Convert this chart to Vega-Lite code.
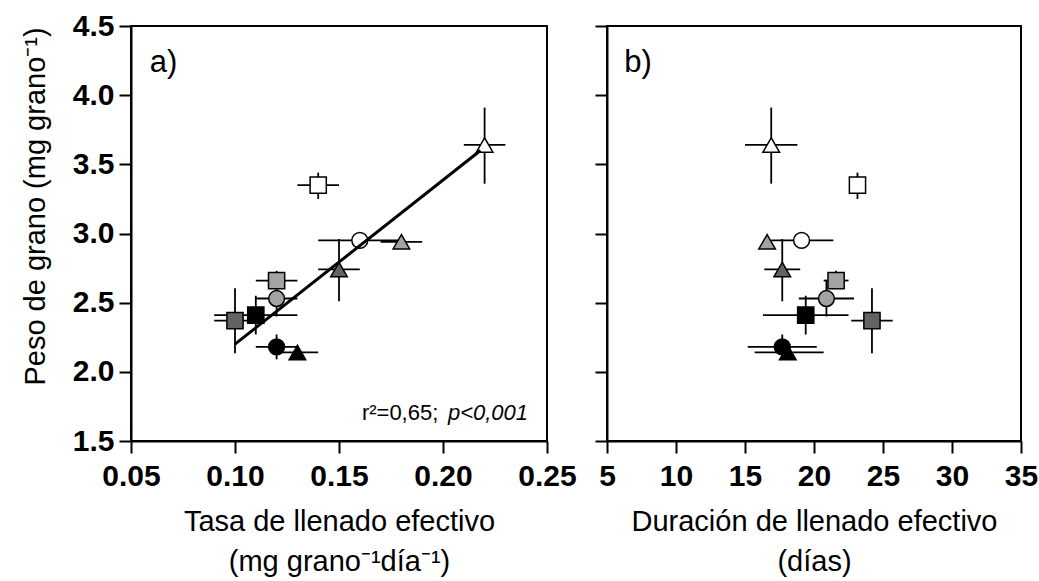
{
  "$schema": "https://vega.github.io/schema/vega-lite/v6.json",
  "padding": {"left": 20, "top": 10, "right": 0, "bottom": 0},
  "bounds": "flush",
  "spacing": 60,
  "background": "white",
  "config": {
    "font": "Liberation Sans",
    "view": {"stroke": "black", "strokeWidth": 2},
    "axis": {
      "domainColor": "black",
      "domainWidth": 2,
      "tickColor": "black",
      "tickWidth": 2,
      "tickSize": 12,
      "grid": false,
      "labelFont": "Liberation Sans",
      "labelFontWeight": "bold",
      "labelFontSize": 30,
      "labelColor": "black",
      "labelOverlap": false,
      "labelFlush": false,
      "titleFont": "Liberation Sans",
      "titleFontWeight": "normal",
      "titleFontSize": 29,
      "titleColor": "black"
    },
    "axisX": {"labelPadding": 8, "titlePadding": 16, "titleLineHeight": 40},
    "axisY": {"labelPadding": 5, "titlePadding": 22}
  },
  "datasets": {
    "tratamientos": [
      {"forma": "triángulo", "tono": "blanco", "tasa": 0.22, "tasa_lo": 0.21, "tasa_hi": 0.23, "dur": 16.9, "dur_lo": 15.0, "dur_hi": 18.8, "peso": 3.64, "peso_lo": 3.36, "peso_hi": 3.91},
      {"forma": "cuadrado", "tono": "blanco", "tasa": 0.14, "tasa_lo": 0.13, "tasa_hi": 0.15, "dur": 23.15, "dur_lo": 22.85, "dur_hi": 23.55, "peso": 3.35, "peso_lo": 3.25, "peso_hi": 3.44},
      {"forma": "círculo", "tono": "blanco", "tasa": 0.16, "tasa_lo": 0.14, "tasa_hi": 0.18, "dur": 19.1, "dur_lo": 16.9, "dur_hi": 21.4, "peso": 2.95, "peso_lo": 2.92, "peso_hi": 2.98},
      {"forma": "triángulo", "tono": "gris claro", "tasa": 0.18, "tasa_lo": 0.17, "tasa_hi": 0.19, "dur": 16.6, "dur_lo": 16.3, "dur_hi": 16.9, "peso": 2.94, "peso_lo": 2.91, "peso_hi": 2.97},
      {"forma": "triángulo", "tono": "gris oscuro", "tasa": 0.15, "tasa_lo": 0.14, "tasa_hi": 0.16, "dur": 17.7, "dur_lo": 16.4, "dur_hi": 19.0, "peso": 2.74, "peso_lo": 2.51, "peso_hi": 2.96},
      {"forma": "cuadrado", "tono": "gris claro", "tasa": 0.12, "tasa_lo": 0.11, "tasa_hi": 0.13, "dur": 21.6, "dur_lo": 20.7, "dur_hi": 22.5, "peso": 2.66, "peso_lo": 2.6, "peso_hi": 2.73},
      {"forma": "círculo", "tono": "gris claro", "tasa": 0.12, "tasa_lo": 0.11, "tasa_hi": 0.13, "dur": 20.9, "dur_lo": 18.9, "dur_hi": 22.9, "peso": 2.53, "peso_lo": 2.4, "peso_hi": 2.66},
      {"forma": "cuadrado", "tono": "negro", "tasa": 0.11, "tasa_lo": 0.09, "tasa_hi": 0.13, "dur": 19.4, "dur_lo": 16.3, "dur_hi": 22.5, "peso": 2.41, "peso_lo": 2.27, "peso_hi": 2.55},
      {"forma": "cuadrado", "tono": "gris oscuro", "tasa": 0.1, "tasa_lo": 0.09, "tasa_hi": 0.11, "dur": 24.2, "dur_lo": 22.7, "dur_hi": 25.7, "peso": 2.37, "peso_lo": 2.135, "peso_hi": 2.605},
      {"forma": "círculo", "tono": "negro", "tasa": 0.12, "tasa_lo": 0.11, "tasa_hi": 0.13, "dur": 17.7, "dur_lo": 15.2, "dur_hi": 20.2, "peso": 2.18, "peso_lo": 2.09, "peso_hi": 2.27},
      {"forma": "triángulo", "tono": "negro", "tasa": 0.13, "tasa_lo": 0.12, "tasa_hi": 0.14, "dur": 18.1, "dur_lo": 15.7, "dur_hi": 20.7, "peso": 2.14, "peso_lo": 2.12, "peso_hi": 2.16}
    ],
    "ajuste": [
      {"tasa": 0.1, "peso": 2.2},
      {"tasa": 0.218, "peso": 3.6}
    ]
  },
  "hconcat": [
    {
      "width": 416,
      "height": 415,
      "layer": [
        {
          "data": {"name": "tratamientos"},
          "mark": {"type": "rule", "color": "black", "strokeWidth": 1.8},
          "encoding": {
            "x": {"field": "tasa_lo", "type": "quantitative",
              "scale": {"domain": [0.05, 0.25], "nice": false, "zero": false},
              "axis": {"values": [0.05, 0.1, 0.15, 0.2, 0.25], "format": ".2f",
                "title": ["Tasa de llenado efectivo", "(mg grano⁻¹día⁻¹)"]}},
            "x2": {"field": "tasa_hi"},
            "y": {"field": "peso", "type": "quantitative",
              "scale": {"domain": [1.5, 4.5], "nice": false, "zero": false},
              "axis": {"values": [1.5, 2, 2.5, 3, 3.5, 4, 4.5], "format": ".1f",
                "title": "Peso de grano (mg grano⁻¹)", "titleY": 180}}
          }
        },
        {
          "data": {"name": "tratamientos"},
          "mark": {"type": "rule", "color": "black", "strokeWidth": 1.8},
          "encoding": {
            "x": {"field": "tasa", "type": "quantitative"},
            "y": {"field": "peso_lo", "type": "quantitative"},
            "y2": {"field": "peso_hi"}
          }
        },
        {
          "data": {"name": "tratamientos"},
          "mark": {"type": "point", "filled": true, "stroke": "black", "strokeWidth": 1.5, "opacity": 1},
          "encoding": {
            "x": {"field": "tasa", "type": "quantitative"},
            "y": {"field": "peso", "type": "quantitative"},
            "shape": {"field": "forma", "type": "nominal", "legend": null,
              "scale": {"domain": ["círculo", "cuadrado", "triángulo"], "range": ["circle", "square", "triangle-up"]}},
            "size": {"field": "forma", "type": "nominal", "legend": null,
              "scale": {"domain": ["círculo", "cuadrado", "triángulo"], "range": [250, 275, 360]}},
            "fill": {"field": "tono", "type": "nominal", "legend": null,
              "scale": {"domain": ["blanco", "gris claro", "gris oscuro", "negro"], "range": ["#ffffff", "#a3a3a3", "#636363", "#000000"]}}
          }
        },
        {
          "data": {"name": "ajuste"},
          "mark": {"type": "line", "color": "black", "strokeWidth": 3},
          "encoding": {
            "x": {"field": "tasa", "type": "quantitative"},
            "y": {"field": "peso", "type": "quantitative"}
          }
        },
        {
          "data": {"values": [{}]},
          "mark": {"type": "text", "text": "a)", "fontSize": 31, "align": "left", "baseline": "alphabetic", "color": "black"},
          "encoding": {"x": {"datum": 0.059}, "y": {"datum": 4.168}}
        },
        {
          "data": {"values": [{}]},
          "mark": {"type": "text", "text": "r²=0,65;", "fontSize": 22, "align": "left", "baseline": "alphabetic", "color": "black"},
          "encoding": {"x": {"datum": 0.161}, "y": {"datum": 1.655}}
        },
        {
          "data": {"values": [{}]},
          "mark": {"type": "text", "text": "p<0,001", "fontSize": 22, "fontStyle": "italic", "align": "right", "baseline": "alphabetic", "color": "black"},
          "encoding": {"x": {"datum": 0.2409}, "y": {"datum": 1.655}}
        }
      ]
    },
    {
      "width": 414,
      "height": 415,
      "layer": [
        {
          "data": {"name": "tratamientos"},
          "mark": {"type": "rule", "color": "black", "strokeWidth": 1.8},
          "encoding": {
            "x": {"field": "dur_lo", "type": "quantitative",
              "scale": {"domain": [5, 35], "nice": false, "zero": false},
              "axis": {"values": [5, 10, 15, 20, 25, 30, 35], "format": "d",
                "title": ["Duración de llenado efectivo", "(días)"]}},
            "x2": {"field": "dur_hi"},
            "y": {"field": "peso", "type": "quantitative",
              "scale": {"domain": [1.5, 4.5], "nice": false, "zero": false},
              "axis": {"values": [1.5, 2, 2.5, 3, 3.5, 4, 4.5], "labels": false, "title": null}}
          }
        },
        {
          "data": {"name": "tratamientos"},
          "mark": {"type": "rule", "color": "black", "strokeWidth": 1.8},
          "encoding": {
            "x": {"field": "dur", "type": "quantitative"},
            "y": {"field": "peso_lo", "type": "quantitative"},
            "y2": {"field": "peso_hi"}
          }
        },
        {
          "data": {"name": "tratamientos"},
          "mark": {"type": "point", "filled": true, "stroke": "black", "strokeWidth": 1.5, "opacity": 1},
          "encoding": {
            "x": {"field": "dur", "type": "quantitative"},
            "y": {"field": "peso", "type": "quantitative"},
            "shape": {"field": "forma", "type": "nominal", "legend": null,
              "scale": {"domain": ["círculo", "cuadrado", "triángulo"], "range": ["circle", "square", "triangle-up"]}},
            "size": {"field": "forma", "type": "nominal", "legend": null,
              "scale": {"domain": ["círculo", "cuadrado", "triángulo"], "range": [250, 275, 360]}},
            "fill": {"field": "tono", "type": "nominal", "legend": null,
              "scale": {"domain": ["blanco", "gris claro", "gris oscuro", "negro"], "range": ["#ffffff", "#a3a3a3", "#636363", "#000000"]}}
          }
        },
        {
          "data": {"values": [{}]},
          "mark": {"type": "text", "text": "b)", "fontSize": 31, "align": "left", "baseline": "alphabetic", "color": "black"},
          "encoding": {"x": {"datum": 6.25}, "y": {"datum": 4.168}}
        }
      ]
    }
  ]
}
